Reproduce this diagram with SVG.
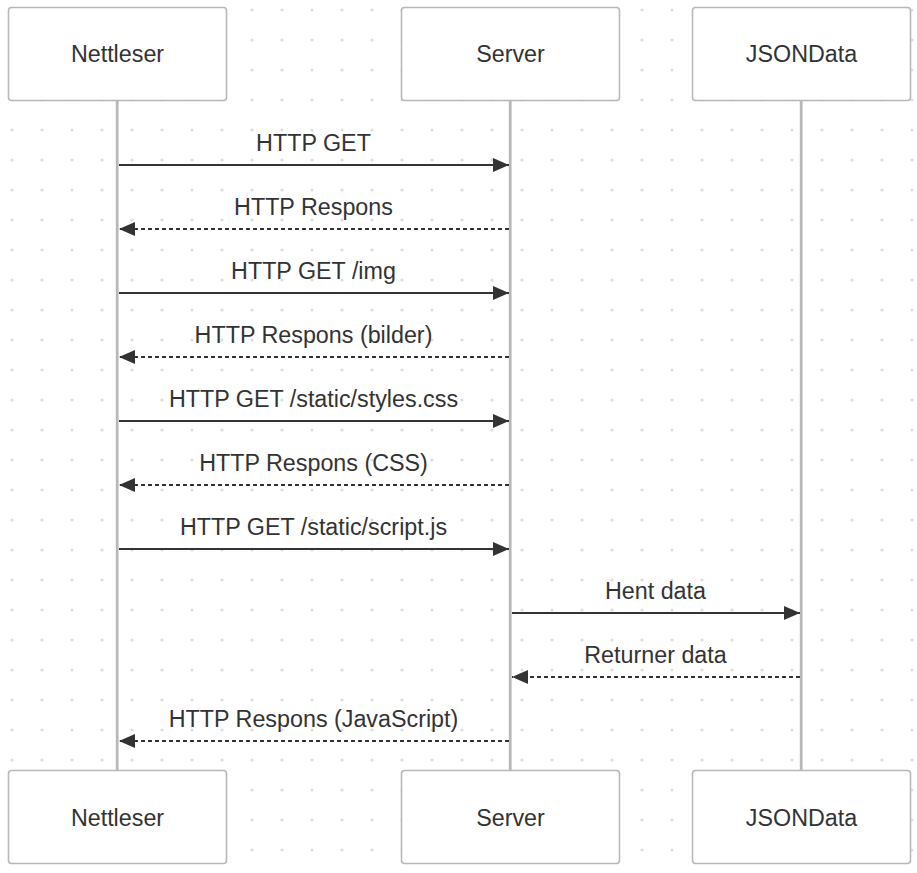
<svg xmlns="http://www.w3.org/2000/svg" width="917" height="873" viewBox="0 0 917 873">
  <style>
    .box { fill: #ffffff; stroke: #b8b8b8; stroke-width: 1.6; }
    .life { stroke: #b8b8b8; stroke-width: 2.8; fill: none; }
    .lbl { font-family: "Liberation Sans", Arial, sans-serif; font-size: 23.3px; fill: #333333; text-anchor: middle; }
    .msg { stroke: #333333; stroke-width: 2; fill: none; marker-end: url(#arrow); }
    .dash { stroke-dasharray: 4 3; }
  </style>
  <defs>
    <pattern id="dots" x="0" y="0" width="30" height="30" patternUnits="userSpaceOnUse">
      <circle cx="12" cy="10" r="1.6" fill="#dddddd"/>
    </pattern>
    <marker id="arrow" markerUnits="userSpaceOnUse" markerWidth="16" markerHeight="14" refX="16" refY="7" orient="auto" viewBox="0 0 16 14">
      <path d="M0,0 L16,7 L0,14 z" fill="#333333"/>
    </marker>
  </defs>
  <rect x="0" y="0" width="917" height="873" fill="#ffffff"/>
  <rect x="0" y="0" width="917" height="873" fill="url(#dots)"/>

  <g id="lifelines">
    <line class="life" x1="117.2" y1="101" x2="117.2" y2="770"/>
    <line class="life" x1="510.2" y1="101" x2="510.2" y2="770"/>
    <line class="life" x1="801.2" y1="101" x2="801.2" y2="770"/>
  </g>

  <g id="node-nettleser-top">
    <rect class="box" x="8.5" y="7.5" width="218" height="93" rx="3"/>
    <text class="lbl" x="117.5" y="62">Nettleser</text>
  </g>
  <g id="node-server-top">
    <rect class="box" x="401.5" y="7.5" width="218" height="93" rx="3"/>
    <text class="lbl" x="510.5" y="62">Server</text>
  </g>
  <g id="node-jsondata-top">
    <rect class="box" x="692.5" y="7.5" width="218" height="93" rx="3"/>
    <text class="lbl" x="801.5" y="62">JSONData</text>
  </g>
  <g id="node-nettleser-bottom">
    <rect class="box" x="8.5" y="770.5" width="218" height="93" rx="3"/>
    <text class="lbl" x="117.5" y="826">Nettleser</text>
  </g>
  <g id="node-server-bottom">
    <rect class="box" x="401.5" y="770.5" width="218" height="93" rx="3"/>
    <text class="lbl" x="510.5" y="826">Server</text>
  </g>
  <g id="node-jsondata-bottom">
    <rect class="box" x="692.5" y="770.5" width="218" height="93" rx="3"/>
    <text class="lbl" x="801.5" y="826">JSONData</text>
  </g>

  <g id="connectors">
    <line class="msg" x1="119" y1="165" x2="509" y2="165"/>
    <text class="lbl" x="313.5" y="151">HTTP GET</text>

    <line class="msg dash" x1="509" y1="229" x2="119" y2="229"/>
    <text class="lbl" x="313.5" y="215">HTTP Respons</text>

    <line class="msg" x1="119" y1="293" x2="509" y2="293"/>
    <text class="lbl" x="313.5" y="279">HTTP GET /img</text>

    <line class="msg dash" x1="509" y1="357" x2="119" y2="357"/>
    <text class="lbl" x="313.5" y="343">HTTP Respons (bilder)</text>

    <line class="msg" x1="119" y1="421" x2="509" y2="421"/>
    <text class="lbl" x="313.5" y="407">HTTP GET /static/styles.css</text>

    <line class="msg dash" x1="509" y1="485" x2="119" y2="485"/>
    <text class="lbl" x="313.5" y="471">HTTP Respons (CSS)</text>

    <line class="msg" x1="119" y1="549" x2="509" y2="549"/>
    <text class="lbl" x="313.5" y="535">HTTP GET /static/script.js</text>

    <line class="msg" x1="512" y1="613" x2="800" y2="613"/>
    <text class="lbl" x="655.5" y="599">Hent data</text>

    <line class="msg dash" x1="800" y1="677" x2="512" y2="677"/>
    <text class="lbl" x="655.5" y="663">Returner data</text>

    <line class="msg dash" x1="509" y1="741" x2="119" y2="741"/>
    <text class="lbl" x="313.5" y="727">HTTP Respons (JavaScript)</text>
  </g>
</svg>
